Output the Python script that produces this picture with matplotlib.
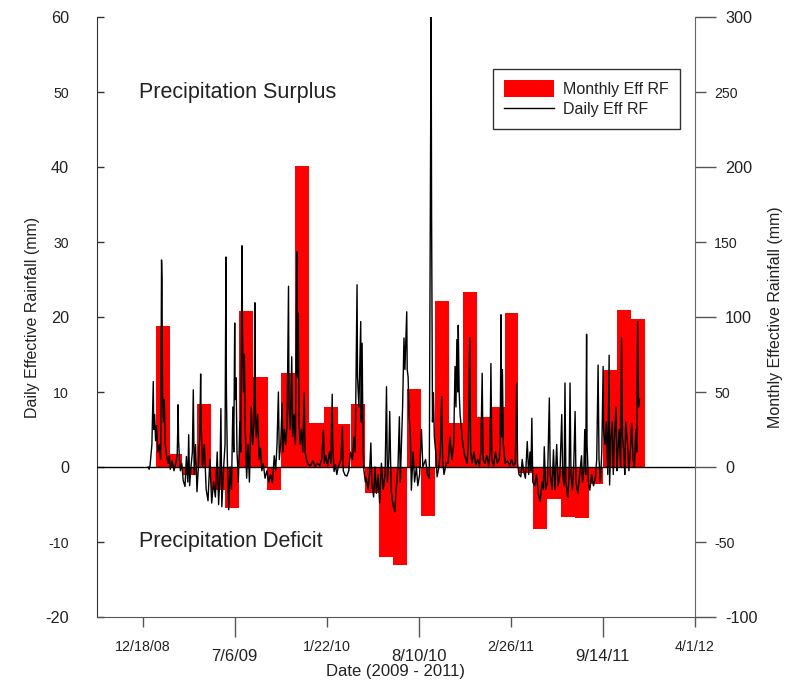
import numpy as np
import pandas as pd
import matplotlib
matplotlib.use('Agg')
import matplotlib.pyplot as plt
import matplotlib.dates as mdates

# monthly effective rainfall (mm), Jan 2009 - Nov 2011
month_first = '2009-01'
month_last = '2011-11'
monthly_eff = [94, 8.7, -5, 42, -15, -27, 104, 60, -15, 63, 201, 29.5,
               40, 28.5, 42, -17.5, -60, -65, 52, -32.5, 111, 29.5, 117, 33.5,
               40, 103, -4, -41, -21.5, -33, -34, -11.5, 65, 105, 99]

# daily effective rainfall (mm), read at peaks/troughs; day = days since 2008-12-18
day0 = '2008-12-18'
daily_day = [12, 14, 16, 20, 23, 24, 26, 28, 30, 33, 36, 39, 41, 42, 43, 45, 47, 49, 52, 55,
             58, 60, 64, 68, 72, 75, 76, 77, 78, 80, 82, 85, 88, 92, 95, 98, 100, 102, 105, 108,
             110, 112, 115, 118, 121, 124, 126, 127, 130, 134, 138, 142, 146, 150, 154, 158, 162, 165, 168, 170,
             172, 176, 179, 181, 182, 184, 187, 190, 193, 196, 198, 200, 201, 203, 205, 208, 211, 213, 216, 217,
             219, 221, 223, 226, 229, 232, 236, 239, 242, 244, 245, 247, 250, 253, 256, 259, 262, 266, 270, 274,
             278, 282, 286, 289, 292, 295, 297, 300, 303, 305, 308, 311, 314, 317, 318, 321, 324, 326, 329, 332,
             335, 336, 338, 340, 342, 345, 348, 351, 353, 356, 360, 365, 370, 375, 380, 385, 389, 393, 395, 398,
             402, 406, 409, 412, 413, 416, 419, 422, 425, 431, 434, 436, 440, 444, 448, 452, 456, 459, 462, 466,
             467, 470, 474, 475, 477, 479, 481, 484, 486, 490, 493, 496, 498, 502, 505, 508, 512, 515, 519, 523,
             527, 530, 532, 535, 537, 540, 544, 548, 551, 555, 558, 560, 563, 565, 568, 570, 574, 575, 577, 579,
             582, 584, 588, 591, 595, 598, 602, 606, 609, 615, 619, 623, 627, 628, 630, 632, 634, 637, 640, 644,
             647, 650, 652, 655, 660, 664, 668, 672, 676, 679, 681, 683, 685, 686, 688, 690, 693, 696, 700, 705,
             708, 711, 713, 716, 720, 724, 728, 732, 735, 738, 740, 744, 748, 752, 755, 757, 759, 763, 767, 771,
             775, 777, 779, 780, 782, 784, 788, 793, 798, 802, 806, 810, 813, 815, 818, 822, 825, 828, 832, 836,
             839, 842, 844, 846, 848, 852, 856, 860, 864, 868, 871, 873, 876, 880, 884, 886, 890, 893, 896, 900,
             903, 907, 911, 913, 916, 918, 920, 924, 927, 929, 931, 934, 937, 940, 942, 946, 950, 954, 956, 959,
             961, 963, 965, 966, 969, 972, 976, 980, 984, 987, 990, 992, 995, 998, 1001, 1002, 1005, 1008, 1011, 1014,
             1015, 1018, 1021, 1023, 1025, 1029, 1031, 1033, 1036, 1039, 1041, 1043, 1046, 1048, 1050, 1054, 1057, 1060, 1063, 1066,
             1069, 1072, 1074, 1076, 1078, 1080]
daily_eff = [0, -0.3, 0.2, 3, 11.4, 5, 7, 3.5, 5.5, 2, 3, 1, 27.6, 24.7, 10, 6, 9, 3, 1.5, 0.5,
             1.5, -0.3, 0.8, -0.5, 0.5, 1.5, 4.5, 8.3, 3.5, 1, -0.5, 0.5, -1.8, -2.6, 1.4, -2, 4.3, -2.5, 0, 2,
             10.3, -1, 3, -3.3, 0, 4, 12.4, 6, 0, 3, -3, -4.5, 1, -4.8, -2, -4, 2, -5, -1, 7.8,
             -5.3, 0, 3, 28, 10, 1, -5.7, 0, -3, 8, 2, 19.2, 9, 11.9, 2, -2, 6, 2, 29.5, 18,
             10, 15, 5, -1.5, 3, -2, 8, 3, 6, 21.9, 8, 4, 7, 1, 2.5, -0.5, 0.5, -1.5, -0.5, -2,
             -1, -2.1, 1.5, -0.5, 3, 10, 1, 3, 8.5, 2, 5, 3, 6, 24.1, 8, 5, 14.7, 4, 7, 3,
             28.7, 12, 20.5, 6, 3, 5, 2, 9.9, 2, 1, 0.3, 0.2, 0.8, 0.1, 0.5, 0.2, 1, 4.9, 0.5, 1.5,
             0.2, 2, 0.5, 9.7, 3, -0.6, 0.3, -1, 0, 1, 5.4, -0.5, -1.1, -1.2, -0.5, 2, 1, 4, 2, 24.3,
             12, 8, 19.4, 6, 16.5, 3, -0.5, -2, -1.5, -3, -1, 3.2, -2, -4, 0, -3.5, -1, -4.8, 0.5, -3,
             -1, 10.7, -2, 1, 7.4, -3, -5, -6, -3, 0, 6.7, -2, 4, 8, 17.2, 13, 20.7, 13, 12, 7,
             4, -3.1, 2, -2, 0, -2.5, -1, 5, 0, 1, -1, -1.5, 61, 33.9, 6, 9.9, 4, 2, -1.3, 0,
             2, 9.4, 1, -1, 0.5, 0.5, 4, 1, 3, 13.4, 8, 17, 10, 18.9, 10, 7, 5, 3, 1.5, 0.5,
             3, 17.2, 2, 0.5, 2, 0.3, 1, 0.2, 2, 12.5, 1, 0.5, 1.5, 0.2, 2, 13.8, 1, 0.2, 2, 0.5,
             1, 3, 20.3, 4, 13, 3, 0.5, 0.8, 0.2, 1, 0.2, 0.5, 11.2, 0.5, -1, -1.3, 1, -0.5, -1.5, 3.4,
             -1, 2, -0.5, 6.5, -2, -2.5, -1, -3.5, -4.6, -2, -3, 2.7, -3, -2, 9.2, -1, -3, 2.3, -3, 3,
             -2.5, -1, 7, -1, -2.5, 11.2, -2, -4.1, -1, 11.2, -1, -3, 0, 7.4, -2, -3.5, -1, 1.5, -2, -0.5,
             5, -1, 17.7, 3, -2, -3.1, -1, -2.5, -1.5, 1, 13.6, 1, -2, 2, 13.4, 5, 3, 6, -1, 14.9,
             -2.4, 4, 6, -1, 3, 8, -0.5, 2, 5, 0, 17.2, 4, 2, -1, 6, 3, -0.5, 2, 5.8, 1,
             0, 5, 2, 19.4, 8, 9]

# x ticks
x_major = ['2009-07-06', '2010-08-10', '2011-09-14']
x_major_labels = ['7/6/09', '8/10/10', '9/14/11']
x_minor = ['2008-12-18', '2010-01-22', '2011-02-26', '2012-04-01']
x_minor_labels = ['12/18/08', '1/22/10', '2/26/11', '4/1/12']

plt.rcParams['font.family'] = ['Liberation Sans', 'DejaVu Sans']
ink = '#222222'

fig = plt.figure(figsize=(7.85, 6.83), dpi=100)
ax = fig.add_axes([0.12318, 0.09663, 0.76178, 0.87848])
ax2 = ax.twinx()
ax.set_zorder(ax2.get_zorder() + 1)
ax.patch.set_visible(False)

# monthly bars on the right axis
months = pd.period_range(month_first, month_last, freq='M')
bar_x = mdates.date2num(months.end_time.normalize().to_pydatetime())
bars = ax2.bar(bar_x, monthly_eff, width=np.array(months.days_in_month),
               color='#ff0000', linewidth=0)

# daily line on the left axis
t0 = mdates.date2num(pd.Timestamp(day0).to_pydatetime())
line, = ax.plot(t0 + np.array(daily_day), daily_eff, color='black', lw=1.0)
ax.axhline(0, color='black', lw=1, zorder=3)

ax.set_xlim(mdates.date2num(pd.Timestamp('2008-09-09').to_pydatetime()),
            mdates.date2num(pd.Timestamp('2012-04-01').to_pydatetime()))
ax.set_ylim(-20, 60)
ax2.set_ylim(-100, 300)

# spines
for s in ['top', 'right']:
    ax.spines[s].set_visible(False)
for s in ['top', 'left', 'bottom']:
    ax2.spines[s].set_visible(False)
ax.spines['left'].set_color('#333333')
ax.spines['bottom'].set_color('#555555')
ax2.spines['right'].set_color('#666666')

# x ticks
to_num = lambda ds: [mdates.date2num(pd.Timestamp(d).to_pydatetime()) for d in ds]
ax.set_xticks(to_num(x_major), labels=x_major_labels)
ax.set_xticks(to_num(x_minor), labels=x_minor_labels, minor=True)
ax.tick_params(axis='x', which='major', direction='out', length=14.4, width=1,
               pad=8.6, labelsize=12, colors='#555555', labelcolor=ink)
ax.tick_params(axis='x', which='minor', direction='out', length=7.2, width=1,
               pad=9.4, labelsize=10.3, colors='#555555', labelcolor=ink)

# left y ticks
ax.set_yticks([-20, 0, 20, 40, 60], labels=['-20', '0', '20', '40', '60'])
ax.set_yticks([-10, 10, 30, 50], labels=['-10', '10', '30', '50'], minor=True)
ax.tick_params(axis='y', which='major', direction='in', length=5, width=1,
               pad=20, labelsize=11.7, colors='#333333', labelcolor=ink)
ax.tick_params(axis='y', which='minor', direction='in', length=5, width=1,
               pad=20, labelsize=10.2, colors='#333333', labelcolor=ink)

# right y ticks
ax2.set_yticks([-100, 0, 100, 200, 300], labels=['-100', '0', '100', '200', '300'])
ax2.set_yticks([-50, 50, 150, 250], labels=['-50', '50', '150', '250'], minor=True)
ax2.tick_params(axis='y', which='major', direction='out', length=15, width=1,
                pad=7, labelsize=11.7, colors='#555555', labelcolor=ink)
ax2.tick_params(axis='y', which='minor', direction='out', length=8, width=1,
                pad=6, labelsize=10.2, colors='#555555', labelcolor=ink)

# axis labels
ax.set_xlabel('Date (2009 - 2011)', fontsize=12, color=ink)
ax.xaxis.set_label_coords(0.5, -0.078)
ax.set_ylabel('Daily Effective Rainfall (mm)', fontsize=11.5, color=ink)
ax.yaxis.set_label_coords(-0.095, 0.5)
ax2.set_ylabel('Monthly Effective Rainfall (mm)', fontsize=11.5, color=ink)
ax2.yaxis.set_label_coords(1.122, 0.5)

ax.text(0.0712, 0.865, 'Precipitation Surplus', transform=ax.transAxes,
        fontsize=15.5, color=ink, va='baseline', ha='left')
ax.text(0.0712, 0.116, 'Precipitation Deficit', transform=ax.transAxes,
        fontsize=15.5, color=ink, va='baseline', ha='left')

leg = ax.legend([bars, line], ['Monthly Eff RF', 'Daily Eff RF'],
                loc='upper right', bbox_to_anchor=(680.3 / 785, 1 - 69 / 683),
                bbox_transform=fig.transFigure, fontsize=11.5, frameon=True,
                fancybox=False, edgecolor='black', handlelength=3.15,
                handleheight=1.2, borderpad=0.7, labelspacing=0.25,
                handletextpad=0.58, borderaxespad=0)
leg.get_frame().set_linewidth(1.0)
for t in leg.get_texts():
    t.set_color(ink)

fig.savefig('out.png', dpi=100)
